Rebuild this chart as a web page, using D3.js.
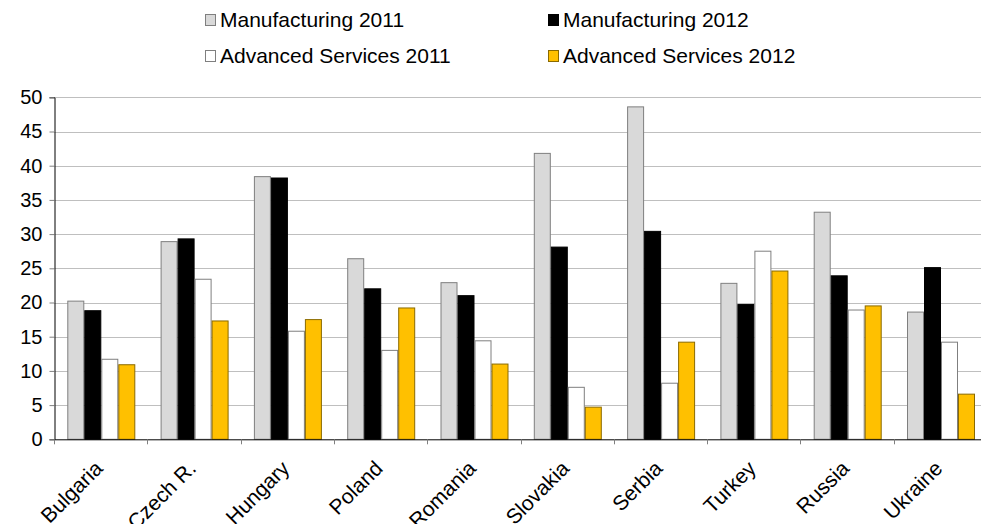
<!DOCTYPE html>
<html>
<head>
<meta charset="utf-8">
<script src="https://cdnjs.cloudflare.com/ajax/libs/d3/7.8.5/d3.min.js"></script>
<style>
  body { margin: 0; background: #fff; }
  text { font-family: "Liberation Sans", Arial, sans-serif; fill: #000; }
</style>
</head>
<body>
<div id="chart"></div>
<script>
var countries = ["Bulgaria", "Czech R.", "Hungary", "Poland", "Romania", "Slovakia", "Serbia", "Turkey", "Russia", "Ukraine"]
var seriesNames = ["Manufacturing 2011", "Manufacturing 2012", "Advanced Services 2011", "Advanced Services 2012"]
var manuf2011 = [20.2, 28.9, 38.4, 26.4, 22.9, 41.8, 48.6, 22.8, 33.2, 18.6]
var manuf2012 = [18.8, 29.3, 38.2, 22.0, 21.0, 28.1, 30.4, 19.7, 23.9, 25.1]
var adv2011 = [11.7, 23.4, 15.8, 13.0, 14.4, 7.6, 8.2, 27.5, 18.9, 14.2]
var adv2012 = [10.9, 17.3, 17.5, 19.2, 11.0, 4.7, 14.2, 24.6, 19.5, 6.6]
var yTicks = [0, 5, 10, 15, 20, 25, 30, 35, 40, 45, 50]

var seriesValues = [manuf2011, manuf2012, adv2011, adv2012]
var fills = ["#d9d9d9", "#000000", "#ffffff", "#ffc000"]
var strokes = ["#7f7f7f", "#000000", "#7f7f7f", "#8a6a00"]

var width = 981, height = 524
var plotLeft = 54, plotRight = 987, plotTop = 97.3, plotBottom = 439.3

var svg = d3.select("#chart").append("svg").attr("width", width).attr("height", height)

var x = d3.scaleBand().domain(countries).range([plotLeft, plotRight]).padding(0)
var xs = d3.scaleBand().domain(seriesNames).range([13.3, 81.3]).padding(0)
var y = d3.scaleLinear().domain([0, 50]).range([plotBottom, plotTop])

// gridlines
svg.append("g").selectAll("line")
    .data(yTicks.filter(function(d){ return d > 0 }))
    .enter().append("line")
    .attr("x1", plotLeft).attr("x2", width)
    .attr("y1", function(d){ return Math.round(y(d)) + 0.5 })
    .attr("y2", function(d){ return Math.round(y(d)) + 0.5 })
    .attr("stroke", "#bfbfbf").attr("stroke-width", 1)

// bars
var rows = []
countries.forEach(function(c, i){
    seriesNames.forEach(function(s, j){
        rows.push({country: c, series: s, idx: j, value: seriesValues[j][i]})
    })
})
svg.append("g").selectAll("rect")
    .data(rows)
    .enter().append("rect")
    .attr("x", function(d){ return x(d.country) + xs(d.series) + 0.5 })
    .attr("width", xs.bandwidth() - 1)
    .attr("y", function(d){ return y(d.value) })
    .attr("height", function(d){ return plotBottom - y(d.value) })
    .attr("fill", function(d){ return fills[d.idx] })
    .attr("stroke", function(d){ return strokes[d.idx] })
    .attr("stroke-width", 1)

// y axis
var yAxis = d3.axisLeft(y).tickValues(yTicks).tickSize(5).tickPadding(7)
var gy = svg.append("g").attr("transform", "translate(" + (plotLeft + 0.5) + ",0)").call(yAxis)
gy.select(".domain").attr("stroke", "#000")
gy.selectAll(".tick line").attr("stroke", "#808080")
gy.selectAll("text").style("font-size", "20px").attr("font-family", "Liberation Sans, Arial, sans-serif")

// x axis
svg.append("line").attr("x1", plotLeft).attr("x2", width)
    .attr("y1", plotBottom + 0.5).attr("y2", plotBottom + 0.5).attr("stroke", "#000")
svg.append("g").selectAll("line")
    .data(countries)
    .enter().append("line")
    .attr("x1", function(d){ return Math.round(x(d)) + 0.5 })
    .attr("x2", function(d){ return Math.round(x(d)) + 0.5 })
    .attr("y1", plotBottom).attr("y2", plotBottom + 5)
    .attr("stroke", "#808080")

svg.append("g").selectAll("text")
    .data(countries)
    .enter().append("text")
    .attr("transform", function(d){
        return "translate(" + (x(d) + x.bandwidth() / 2 - 7) + "," + (plotBottom + 20) + ") rotate(-45)"
    })
    .attr("text-anchor", "end")
    .attr("dy", "0.7em")
    .style("font-size", "21px")
    .text(function(d){ return d })

// legend
var legendPos = [[205, 20], [548, 20], [205, 56], [548, 56]]
var lg = svg.append("g").selectAll("g")
    .data(seriesNames)
    .enter().append("g")
    .attr("transform", function(d, i){ return "translate(" + legendPos[i][0] + "," + legendPos[i][1] + ")" })
lg.append("rect")
    .attr("x", 0.5).attr("y", -5.5).attr("width", 10).attr("height", 11)
    .attr("fill", function(d, i){ return fills[i] })
    .attr("stroke", function(d, i){ return strokes[i] })
lg.append("text")
    .attr("x", 15).attr("dy", "0.35em")
    .style("font-size", "21px")
    .text(function(d){ return d })
</script>
</body>
</html>
